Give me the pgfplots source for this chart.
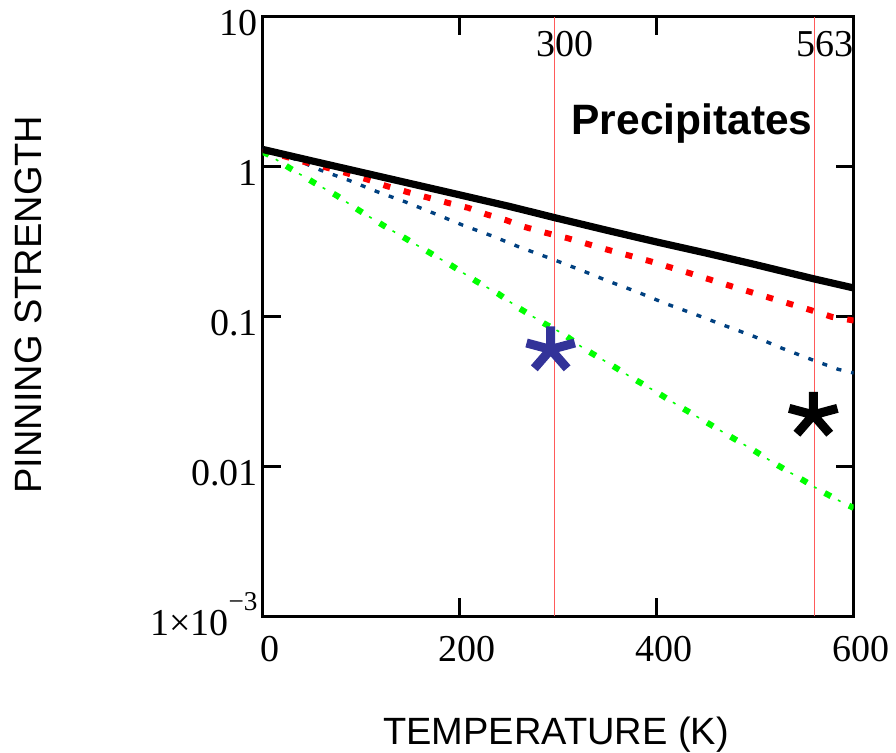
\documentclass[border=0pt]{standalone}
\usepackage{pgfplots}
\pgfplotsset{compat=1.18}
\usepackage{fontspec}
\setmainfont{Liberation Serif}
\newfontfamily\arialf{Liberation Sans}

\pgfdeclareplotmark{ast5}{%
  \pgfsetlinewidth{4.5pt}\pgfsetbuttcap
  \pgfpathmoveto{\pgfpointorigin}\pgfpathlineto{\pgfpointpolar{90}{0.92\pgfplotmarksize}}%
  \pgfpathmoveto{\pgfpointorigin}\pgfpathlineto{\pgfpointpolar{15}{\pgfplotmarksize}}%
  \pgfpathmoveto{\pgfpointorigin}\pgfpathlineto{\pgfpointpolar{165}{\pgfplotmarksize}}%
  \pgfpathmoveto{\pgfpointorigin}\pgfpathlineto{\pgfpointpolar{229}{\pgfplotmarksize}}%
  \pgfpathmoveto{\pgfpointorigin}\pgfpathlineto{\pgfpointpolar{311}{\pgfplotmarksize}}%
  \pgfusepathqstroke
  \pgfpathcircle{\pgfpointorigin}{2.6pt}\pgfusepathqfill}

\definecolor{dblue}{RGB}{0,64,128}
\definecolor{stblue}{RGB}{51,51,153}
\definecolor{lgreen}{RGB}{0,255,0}
\definecolor{vred}{RGB}{255,90,90}

\begin{document}
\begin{tikzpicture}
\begin{axis}[
  name=ax, at={(0pt,0pt)}, anchor=south west,
  scale only axis, width=295.5pt, height=300pt,
  xmin=0, xmax=600, ymin=1e-3, ymax=10, ymode=log,
  xtick={0,200,400,600}, xticklabels={0,200,400,600},
  ytick={0.001,0.01,0.1,1,10},
  yticklabels={1×10\raisebox{12.3pt}{\fontsize{13.6}{14}\selectfont −3},0.01,0.1,1,10},
  xminorticks=false, yminorticks=false,
  tick align=inside, tick pos=both, major tick length=9pt,
  every tick/.append style={black, line width=1.5pt},
  axis line style={line width=1.6pt},
  tick label style={font=\fontsize{19}{22}\selectfont, inner sep=0pt},
  xticklabel style={anchor=base, yshift=-22.75pt, xshift=3.75pt},
  yticklabel style={anchor=base east, xshift=-2.35pt, yshift=-9.5pt},
]
% vertical reference lines
\addplot[vred, line width=0.4pt] coordinates {(296,0.001) (296,10)};
\addplot[vred, line width=0.4pt] coordinates {(560,0.001) (560,10)};

% green (dash-dot)
\addplot[lgreen, line width=3pt, dash pattern=on 3.5pt off 10.2pt] coordinates {
(0,1.25) (5.8,1.2) (27,0.98) (52.5,0.778) (75,0.641) (98,0.509) (122.7,0.404)
(145.5,0.33) (168,0.27) (191.6,0.219) (216.7,0.172) (239,0.142) (260,0.114)
(285.6,0.090) (304.5,0.077) (326.5,0.0609) (352,0.0484) (375,0.039) (400,0.0313)
(423,0.0252) (449,0.02) (473,0.0161) (497,0.013) (520.6,0.0104) (546,0.0083)
(568,0.0068) (592,0.0056) (600,0.0053)};
\addplot[lgreen, line width=0.8pt, dash pattern=on 1.5pt off 12.2pt, dash phase=6.2pt] coordinates {
(0,1.25) (5.8,1.2) (27,0.98) (52.5,0.778) (75,0.641) (98,0.509) (122.7,0.404)
(145.5,0.33) (168,0.27) (191.6,0.219) (216.7,0.172) (239,0.142) (260,0.114)
(285.6,0.090) (304.5,0.077) (326.5,0.0609) (352,0.0484) (375,0.039) (400,0.0313)
(423,0.0252) (449,0.02) (473,0.0161) (497,0.013) (520.6,0.0104) (546,0.0083)
(568,0.0068) (592,0.0056) (600,0.0053)};

% blue dotted
\addplot[dblue, line width=1.7pt, dash pattern=on 2.5pt off 5pt] coordinates {
(0,1.33) (14,1.22) (30,1.14) (58.9,0.945) (87.3,0.81) (116,0.68) (144.8,0.581)
(173,0.49) (203.3,0.406) (233.7,0.343) (260.8,0.29) (290.6,0.246) (323,0.204)
(351,0.172) (380,0.146) (409,0.122) (438,0.104) (468,0.0875) (498,0.074)
(527,0.0615) (557,0.0517) (584,0.0445) (600,0.042)};

% red dashed
\addplot[red, line width=3pt, dash pattern=on 3.5pt off 7pt] coordinates {
(0,1.30) (20,1.18) (40.6,1.08) (62,0.995) (83.6,0.91) (106,0.82) (126,0.74)
(147.5,0.674) (168.8,0.618) (187.8,0.573) (208.8,0.53) (227.4,0.479) (247,0.439)
(265.6,0.396) (287.6,0.361) (308.6,0.334) (349,0.28) (393,0.234) (434,0.194)
(476,0.159) (516.8,0.132) (557,0.110) (577.7,0.0995) (600,0.094)};

% black solid
\addplot[black, line width=3.6pt] coordinates {
(0,1.30) (50,1.09) (100,0.916) (150,0.77) (200,0.647) (250,0.543) (300,0.45)
(350,0.375) (400,0.314) (450,0.265) (500,0.222) (560,0.178) (600,0.155)};

% asterisks
\addplot[only marks, mark=ast5, mark size=12.5pt, color=stblue] coordinates {(292.4,0.0603)};
\addplot[only marks, mark=ast5, mark size=12.5pt, color=black] coordinates {(559,0.0221)};
\end{axis}

\node[anchor=base, inner sep=0pt, font=\arialf\bfseries\fontsize{21.25}{24}\selectfont] at (214.65pt,240.75pt) {Precipitates};
\node[anchor=base, inner sep=0pt, font=\fontsize{19}{22}\selectfont] at (151.4pt,279.75pt) {300};
\node[anchor=base, inner sep=0pt, font=\fontsize{19}{22}\selectfont] at (281pt,279.75pt) {563};
\node[anchor=base, inner sep=0pt, font=\arialf\fontsize{19}{22}\selectfont] at (146.65pt,-64.25pt) {TEMPERATURE (K)};
\node[anchor=base, inner sep=0pt, rotate=90, font=\arialf\fontsize{19}{22}\selectfont] at (-110.5pt,156pt) {PINNING STRENGTH};

\pgfresetboundingbox
\path (-131.35pt,-68.25pt) rectangle (316.65pt,308.25pt);
\end{tikzpicture}
\end{document}
